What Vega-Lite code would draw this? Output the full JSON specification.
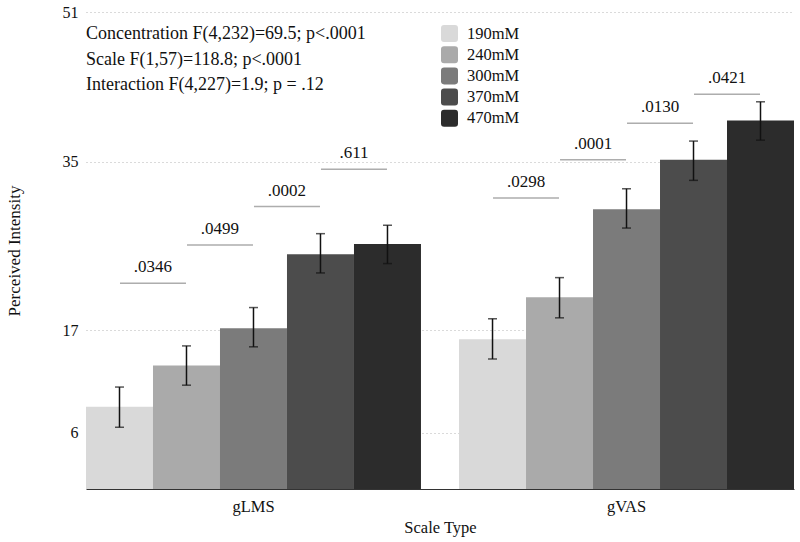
{
  "$schema": "https://vega.github.io/schema/vega-lite/v6.json",
  "width": 708,
  "height": 477,
  "autosize": "none",
  "padding": {"left": 86, "top": 12, "right": 6, "bottom": 53},
  "background": "white",
  "config": {
    "font": "Liberation Serif",
    "view": {"stroke": null},
    "axis": {"labelFont": "Liberation Serif", "titleFont": "Liberation Serif", "labelColor": "#111", "titleColor": "#111", "titleFontWeight": "normal"}
  },
  "title": {
    "text": ["Concentration F(4,232)=69.5; p<.0001", "Scale F(1,57)=118.8; p<.0001", "Interaction F(4,227)=1.9; p = .12"],
    "anchor": "start",
    "frame": "group",
    "orient": "top",
    "offset": -90,
    "font": "Liberation Serif",
    "fontSize": 18,
    "fontWeight": "normal",
    "color": "#111",
    "lineHeight": 25.5,
    "baseline": "top"
  },
  "datasets": {
    "bars": [
      {"scale": "gLMS", "conc": "190mM", "mean": 8.8, "lo": 6.6, "hi": 10.9},
      {"scale": "gLMS", "conc": "240mM", "mean": 13.2, "lo": 11.1, "hi": 15.3},
      {"scale": "gLMS", "conc": "300mM", "mean": 17.2, "lo": 15.2, "hi": 19.4},
      {"scale": "gLMS", "conc": "370mM", "mean": 25.1, "lo": 23.1, "hi": 27.3},
      {"scale": "gLMS", "conc": "470mM", "mean": 26.2, "lo": 24.1, "hi": 28.2},
      {"scale": "gVAS", "conc": "190mM", "mean": 16.0, "lo": 13.9, "hi": 18.2},
      {"scale": "gVAS", "conc": "240mM", "mean": 20.5, "lo": 18.3, "hi": 22.6},
      {"scale": "gVAS", "conc": "300mM", "mean": 29.9, "lo": 27.9, "hi": 32.1},
      {"scale": "gVAS", "conc": "370mM", "mean": 35.2, "lo": 33.0, "hi": 37.2},
      {"scale": "gVAS", "conc": "470mM", "mean": 39.4, "lo": 37.3, "hi": 41.4}
    ],
    "sig": [
      {"scale": "gLMS", "conc": "190mM", "y": 22.0, "p": ".0346"},
      {"scale": "gLMS", "conc": "240mM", "y": 26.1, "p": ".0499"},
      {"scale": "gLMS", "conc": "300mM", "y": 30.2, "p": ".0002"},
      {"scale": "gLMS", "conc": "370mM", "y": 34.2, "p": ".611"},
      {"scale": "gVAS", "conc": "190mM", "y": 31.1, "p": ".0298"},
      {"scale": "gVAS", "conc": "240mM", "y": 35.2, "p": ".0001"},
      {"scale": "gVAS", "conc": "300mM", "y": 39.1, "p": ".0130"},
      {"scale": "gVAS", "conc": "370mM", "y": 42.2, "p": ".0421"}
    ]
  },
  "encoding": {
    "x": {
      "field": "scale", "type": "nominal",
      "scale": {"paddingInner": 0.102, "paddingOuter": 0},
      "axis": {"title": "Scale Type", "labelAngle": 0, "ticks": false, "labelFontSize": 16.5, "titleFontSize": 16.5, "labelPadding": 9, "titlePadding": 5, "domainColor": "#333", "domainWidth": 1}
    }
  },
  "layer": [
    {
      "data": {"name": "bars"},
      "encoding": {
        "xOffset": {
          "field": "conc", "type": "nominal",
          "sort": ["190mM", "240mM", "300mM", "370mM", "470mM"],
          "scale": {"domain": ["190mM", "240mM", "300mM", "370mM", "470mM"], "paddingInner": 0, "paddingOuter": 0}
        }
      },
      "layer": [
        {
          "mark": {"type": "bar"},
          "encoding": {
            "y": {
              "field": "mean", "type": "quantitative",
              "scale": {"domain": [0, 51], "nice": false},
              "axis": {"title": "Perceived Intensity", "values": [6, 17, 35, 51], "ticks": false, "domain": false, "labelFontSize": 16, "titleFontSize": 17, "labelPadding": 8, "titleX": -72, "titleBaseline": "middle", "grid": true, "gridDash": [1, 3], "gridColor": "#b5b5b5", "gridWidth": 1}
            },
            "color": {
              "field": "conc", "type": "nominal",
              "scale": {"domain": ["190mM", "240mM", "300mM", "370mM", "470mM"], "range": ["#d9d9d9", "#aaaaaa", "#7b7b7b", "#4c4c4c", "#2c2c2c"]},
              "legend": {
                "title": null, "orient": "none", "legendX": 355, "legendY": 13,
                "symbolType": "M-0.64,-1L0.64,-1Q1,-1,1,-0.64L1,0.64Q1,1,0.64,1L-0.64,1Q-1,1,-1,0.64L-1,-0.64Q-1,-1,-0.64,-1Z",
                "symbolSize": 289, "symbolStrokeWidth": 0, "symbolOpacity": 1,
                "labelFont": "Liberation Serif", "labelFontSize": 16.5, "labelColor": "#111", "labelOffset": 9, "rowPadding": 4.2
              }
            }
          }
        },
        {
          "mark": {"type": "rule", "color": "#111", "strokeWidth": 1.5},
          "encoding": {
            "y": {"field": "lo", "type": "quantitative"},
            "y2": {"field": "hi"}
          }
        },
        {
          "mark": {"type": "tick", "color": "#111", "thickness": 1.5, "size": 9, "orient": "horizontal"},
          "encoding": {"y": {"field": "lo", "type": "quantitative"}}
        },
        {
          "mark": {"type": "tick", "color": "#111", "thickness": 1.5, "size": 9, "orient": "horizontal"},
          "encoding": {"y": {"field": "hi", "type": "quantitative"}}
        }
      ]
    },
    {
      "data": {"name": "sig"},
      "encoding": {
        "xOffset": {
          "field": "conc", "type": "nominal",
          "sort": ["190mM", "240mM", "300mM", "370mM"],
          "scale": {"domain": ["190mM", "240mM", "300mM", "370mM"], "paddingInner": 0, "paddingOuter": 0.5, "align": 0.5}
        }
      },
      "layer": [
        {
          "mark": {"type": "tick", "color": "#8a8a8a", "thickness": 1.5, "size": 66, "orient": "horizontal"},
          "encoding": {"y": {"field": "y", "type": "quantitative"}}
        },
        {
          "mark": {"type": "text", "color": "#111", "fontSize": 17, "font": "Liberation Serif", "baseline": "bottom", "dy": -7},
          "encoding": {
            "y": {"field": "y", "type": "quantitative"},
            "text": {"field": "p", "type": "nominal"}
          }
        }
      ]
    }
  ],
  "resolve": {"scale": {"xOffset": "independent"}}
}
